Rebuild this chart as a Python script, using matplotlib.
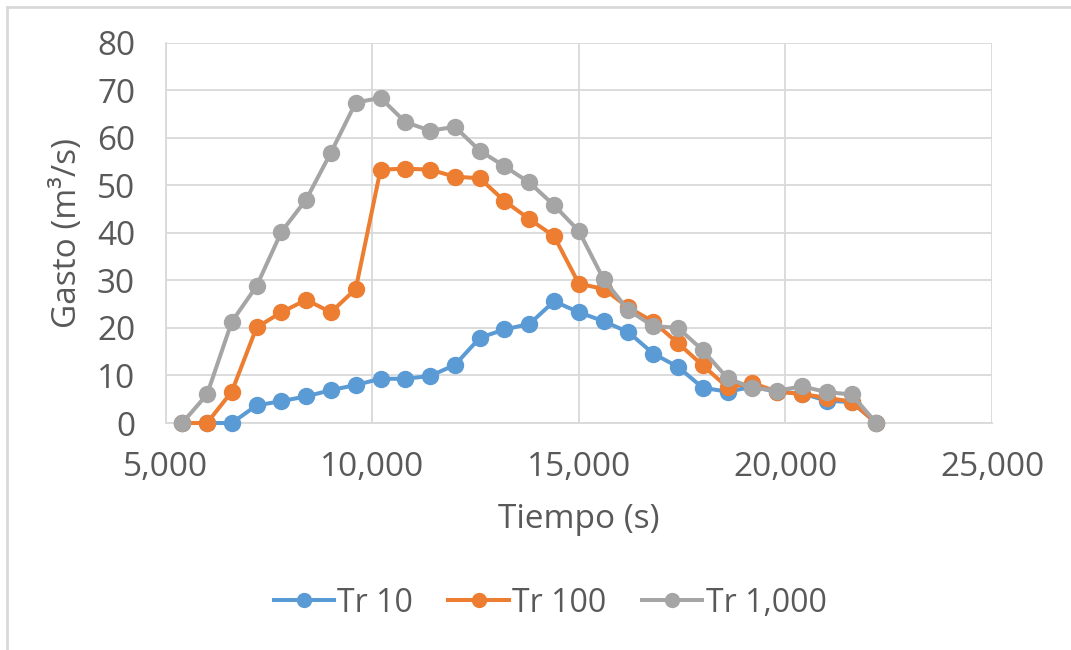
import matplotlib
matplotlib.use("Agg")
import matplotlib.pyplot as plt
from matplotlib.ticker import FuncFormatter, MultipleLocator
from matplotlib.lines import Line2D

tiempo = [5400, 6000, 6600, 7200, 7800, 8400, 9000, 9600, 10200, 10800,
          11400, 12000, 12600, 13200, 13800, 14400, 15000, 15600, 16200, 16800,
          17400, 18000, 18600, 19200, 19800, 20400, 21000, 21600, 22200]
tr10 = [0, 0, 0, 3.7, 4.6, 5.6, 6.9, 8.0, 9.3, 9.3,
        9.9, 12.2, 17.9, 19.7, 20.8, 25.6, 23.3, 21.4, 19.1, 14.6,
        11.8, 7.4, 6.6, 7.6, 6.6, 6.2, 4.7, 4.4, 0]
tr100 = [0, 0, 6.6, 20.1, 23.3, 25.9, 23.3, 28.2, 53.3, 53.5,
         53.3, 51.8, 51.5, 46.7, 42.9, 39.3, 29.3, 28.2, 24.3, 21.3,
         16.8, 12.1, 7.5, 8.4, 6.6, 6.1, 5.3, 4.5, 0]
tr1000 = [0, 6.0, 21.3, 28.8, 40.2, 47.0, 56.9, 67.4, 68.4, 63.3,
          61.5, 62.3, 57.3, 54.0, 50.6, 45.8, 40.4, 30.2, 23.7, 20.4,
          20.0, 15.3, 9.4, 7.4, 6.8, 7.7, 6.5, 6.0, 0]
labels = ["Tr 10", "Tr 100", "Tr 1,000"]
colors = ["#5B9BD5", "#ED7D31", "#A5A5A5"]

plt.rcParams['font.family'] = ['Open Sans', 'DejaVu Sans']

W, H = 1071, 650
fig = plt.figure(figsize=(W / 100, H / 100), dpi=100)
ax = fig.add_axes([165.7 / W, 1 - 423 / H, (992 - 165.7) / W, (423 - 42.7) / H])

for y, lab, c in zip([tr10, tr100, tr1000], labels, colors):
    ax.plot(tiempo, y, color=c, lw=2.9, marker='o', ms=11.5, label=lab,
            solid_joinstyle='round', clip_on=False, zorder=3)

ax.set_xlim(5000, 25000)
ax.set_ylim(0, 80)
ax.xaxis.set_major_locator(MultipleLocator(5000))
ax.yaxis.set_major_locator(MultipleLocator(10))
ax.xaxis.set_major_formatter(FuncFormatter(lambda v, p: f"{int(v):,}"))
ax.grid(True, color="#D9D9D9", lw=1.3, zorder=0)
ax.set_axisbelow(True)
for s in ["top", "right"]:
    ax.spines[s].set_visible(False)
for s in ["left", "bottom"]:
    ax.spines[s].set_color("#D9D9D9")
    ax.spines[s].set_linewidth(1.3)
ax.tick_params(length=0, labelsize=24, colors="#595959")
ax.tick_params(axis='y', pad=22)
ax.tick_params(axis='x', pad=20)
ax.set_xlabel("Tiempo (s)", fontsize=24, color="#595959", labelpad=14)
ax.set_ylabel("Gasto (m³/s)", fontsize=24, color="#595959", labelpad=9)

handles = [Line2D([], [], color=c, lw=2.9, marker='o', ms=10) for c in colors]
fig.legend(handles, labels, loc='center', bbox_to_anchor=(550 / W, 1 - 603 / H),
           ncol=3, frameon=False, fontsize=23, labelcolor="#595959",
           handlelength=1.9, handletextpad=0.1, columnspacing=1.1)

# outer chart border
fig.add_artist(Line2D([7 / W, 1], [1 - 7 / H, 1 - 7 / H], color="#D9D9D9", lw=2))
fig.add_artist(Line2D([7 / W, 7 / W], [1 - 7 / H, 0], color="#D9D9D9", lw=2))

fig.savefig("out.png", dpi=100, facecolor="white")
